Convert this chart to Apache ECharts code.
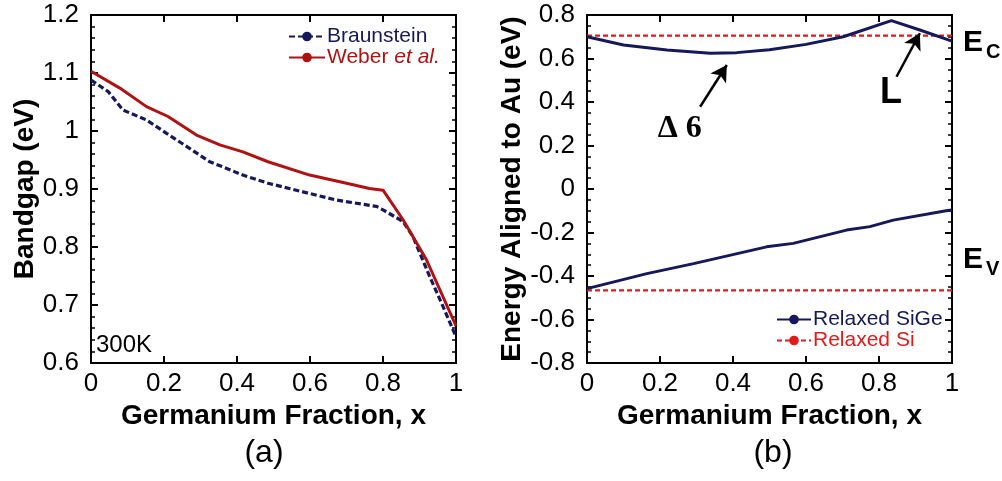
<!DOCTYPE html>
<html>
<head>
<meta charset="utf-8">
<script src="https://cdn.jsdelivr.net/npm/echarts@6/dist/echarts.min.js"></script>
<style>
  html, body { margin: 0; padding: 0; background: #fff; }
  #chart { width: 1002px; height: 481px; }
</style>
</head>
<body>
<div id="chart"></div>
<script>
// (a) Bandgap of SiGe versus germanium fraction at 300K
const weberX = [0, 0.079, 0.152, 0.211, 0.289, 0.353, 0.416, 0.485, 0.599, 0.7, 0.763, 0.8, 0.855, 0.919, 1.0];
const weberGap = [1.103, 1.074, 1.042, 1.025, 0.993, 0.976, 0.964, 0.947, 0.924, 0.910, 0.901, 0.898, 0.847, 0.778, 0.664];
const braunX = [0, 0.047, 0.088, 0.152, 0.207, 0.27, 0.325, 0.362, 0.416, 0.485, 0.581, 0.672, 0.782, 0.8, 0.855, 0.882, 0.928, 0.964, 1.0];
const braunGap = [1.088, 1.068, 1.036, 1.019, 0.996, 0.970, 0.947, 0.938, 0.924, 0.910, 0.895, 0.881, 0.870, 0.864, 0.844, 0.818, 0.749, 0.698, 0.645];

// (b) Band edges aligned to Au
const ecX = [0, 0.1, 0.219, 0.338, 0.41, 0.5, 0.6, 0.702, 0.834, 0.912, 1.0];
const ecSiGe = [0.700, 0.662, 0.639, 0.624, 0.627, 0.640, 0.665, 0.700, 0.774, 0.731, 0.680];
const evX = [0, 0.164, 0.292, 0.492, 0.565, 0.711, 0.775, 0.839, 0.984, 1.0];
const evSiGe = [-0.458, -0.389, -0.343, -0.266, -0.250, -0.189, -0.173, -0.143, -0.100, -0.097];
const siX = [0, 1];
const ecSi = [0.705, 0.705];
const evSi = [-0.466, -0.466];

// Annotation arrows (tail, head) in data units of panel (b)
const deltaArrow = [[0.31, 0.378], [0.383, 0.57]];
const lArrow = [[0.848, 0.516], [0.912, 0.716]];
const deltaLabelAt = [0.254, 0.278];
const lLabelAt = [0.833, 0.439];

const xTicks = { min: 0, max: 1, interval: 0.2 };
const gapTicks = { min: 0.6, max: 1.2, interval: 0.1 };
const energyTicks = { min: -0.8, max: 0.8, interval: 0.2 };

const FONT = 'Liberation Sans, Arial, Helvetica, sans-serif';
const NAVY = '#15185a';
const DARKRED = '#b01212';
const RED = '#e21a1a';

const pairs = (xs, ys) => xs.map((x, i) => [x, ys[i]]);

function xAxisFor(grid, top) {
  return Object.assign({
    type: 'value', gridIndex: grid, position: top ? 'top' : 'bottom',
    axisLine: { show: true, onZero: false, lineStyle: { color: '#000', width: 2 } },
    axisTick: { show: true, inside: true, length: 7, lineStyle: { color: '#000', width: 2 } },
    minorTick: { show: false },
    splitLine: { show: false },
    axisLabel: top ? { show: false } : {
      show: true, color: '#000', fontSize: 26, fontFamily: FONT, margin: 8,
      formatter: v => String(+v.toFixed(1))
    },
    name: top ? '' : 'Germanium Fraction, x',
    nameLocation: 'middle', nameGap: 36,
    nameTextStyle: { color: '#000', fontSize: 28, fontWeight: 'bold', fontFamily: FONT }
  }, xTicks);
}

function yAxisFor(grid, right, ticks, minorSplit, name, gap) {
  return Object.assign({
    type: 'value', gridIndex: grid, position: right ? 'right' : 'left',
    axisLine: { show: true, onZero: false, lineStyle: { color: '#000', width: 2 } },
    axisTick: { show: true, inside: true, length: 7, lineStyle: { color: '#000', width: 2 } },
    minorTick: { show: true, splitNumber: minorSplit, length: 4, lineStyle: { color: '#000', width: 1.5 } },
    splitLine: { show: false },
    axisLabel: right ? { show: false } : {
      show: true, color: '#000', fontSize: 26, fontFamily: FONT, margin: 12,
      formatter: v => String(+v.toFixed(1))
    },
    name: right ? '' : name,
    nameLocation: 'middle', nameGap: gap, nameRotate: 90,
    nameTextStyle: { color: '#000', fontSize: 28, fontWeight: 'bold', fontFamily: FONT }
  }, ticks);
}

const chart = echarts.init(document.getElementById('chart'), null, { renderer: 'canvas' });

const option = {
  backgroundColor: '#fff',
  animation: false,
  grid: [
    { left: 91, right: 546, top: 15, bottom: 118, show: false },
    { left: 587, right: 50, top: 15, bottom: 118, show: false }
  ],
  xAxis: [xAxisFor(0, false), xAxisFor(0, true), xAxisFor(1, false), xAxisFor(1, true)],
  yAxis: [
    yAxisFor(0, false, gapTicks, 5, 'Bandgap (eV)', 52),
    yAxisFor(0, true, gapTicks, 5, '', 0),
    yAxisFor(1, false, energyTicks, 4, 'Energy Aligned to Au (eV)', 48),
    yAxisFor(1, true, energyTicks, 4, '', 0)
  ],
  legend: [
    {
      orient: 'vertical', left: 288, top: 26, itemWidth: 36, itemHeight: 12, itemGap: 0, padding: 0,
      textStyle: { fontSize: 21, fontFamily: FONT, padding: [0, 0, 0, -3],
        rich: { i: { fontStyle: 'italic', fontSize: 21, fontFamily: FONT, color: DARKRED } } },
      formatter: n => n === 'Weber et al.' ? 'Weber {i|et al.}' : n,
      data: [
        { name: 'Braunstein', textStyle: { color: NAVY } },
        { name: 'Weber et al.', textStyle: { color: DARKRED } }
      ]
    },
    {
      orient: 'vertical', left: 776, top: 309, itemWidth: 34, itemHeight: 12, itemGap: 0, padding: 0,
      textStyle: { fontSize: 21, fontFamily: FONT, padding: [0, 0, 0, -3] },
      data: [
        { name: 'Relaxed SiGe', textStyle: { color: NAVY } },
        { name: 'Relaxed Si', textStyle: { color: RED } }
      ]
    }
  ],
  series: [
    {
      name: 'Braunstein', type: 'line', xAxisIndex: 0, yAxisIndex: 0,
      data: pairs(braunX, braunGap), showSymbol: false, symbol: 'none', smooth: false,
      lineStyle: { color: NAVY, width: 3.2, type: [6, 3] }, itemStyle: { color: NAVY }, z: 3
    },
    {
      name: 'Weber et al.', type: 'line', xAxisIndex: 0, yAxisIndex: 0,
      data: pairs(weberX, weberGap), showSymbol: false, symbol: 'none',
      lineStyle: { color: DARKRED, width: 3 }, itemStyle: { color: DARKRED }, z: 4
    },
    {
      name: 'Relaxed Si', type: 'line', xAxisIndex: 2, yAxisIndex: 2,
      data: pairs(siX, ecSi), showSymbol: false, symbol: 'none',
      lineStyle: { color: RED, width: 2.2, type: [5, 3] }, itemStyle: { color: RED }, z: 2
    },
    {
      name: 'Relaxed Si', type: 'line', xAxisIndex: 2, yAxisIndex: 2,
      data: pairs(siX, evSi), showSymbol: false, symbol: 'none',
      lineStyle: { color: RED, width: 2.2, type: [5, 3] }, itemStyle: { color: RED }, z: 2
    },
    {
      name: 'Relaxed SiGe', type: 'line', xAxisIndex: 2, yAxisIndex: 2,
      data: pairs(ecX, ecSiGe), showSymbol: false, symbol: 'none',
      lineStyle: { color: NAVY, width: 3 }, itemStyle: { color: NAVY }, z: 3,
      markLine: {
        silent: true, symbol: ['none', 'arrow'], symbolSize: [14, 16], animation: false,
        label: { show: false },
        lineStyle: { color: '#000', width: 2.5, type: 'solid' },
        data: [
          [{ coord: deltaArrow[0] }, { coord: deltaArrow[1] }],
          [{ coord: lArrow[0] }, { coord: lArrow[1] }]
        ]
      }
    },
    {
      name: 'Relaxed SiGe', type: 'line', xAxisIndex: 2, yAxisIndex: 2,
      data: pairs(evX, evSiGe), showSymbol: false, symbol: 'none',
      lineStyle: { color: NAVY, width: 3 }, itemStyle: { color: NAVY }, z: 3
    }
  ]
};

chart.setOption(option);

// Text annotations placed through the panel (b) scales
const dPos = chart.convertToPixel({ xAxisIndex: 2, yAxisIndex: 2 }, deltaLabelAt);
const lPos = chart.convertToPixel({ xAxisIndex: 2, yAxisIndex: 2 }, lLabelAt);

function txt(x, y, text, size, weight, family, align, extra) {
  return Object.assign({
    type: 'text', x: x, y: y, z: 10,
    style: {
      text: text, fontSize: size, fontWeight: weight || 'normal', fontFamily: family || FONT,
      fill: '#000', align: align || 'center', textAlign: align || 'center',
      verticalAlign: 'middle', textVerticalAlign: 'middle'
    }
  }, extra || {});
}

chart.setOption({
  graphic: [
    txt(96, 345, '300K', 24, 'normal', FONT, 'left'),
    txt(dPos[0], dPos[1], '\u0394 6', 32, 'bold', 'Liberation Serif, Times New Roman, serif'),
    txt(lPos[0], lPos[1], 'L', 36, 'bold'),
    txt(963, 43, 'E', 30, 'bold', FONT, 'left'),
    txt(986, 52, 'C', 20, 'bold', FONT, 'left'),
    txt(963, 260, 'E', 30, 'bold', FONT, 'left'),
    txt(986, 269, 'V', 20, 'bold', FONT, 'left'),
    txt(264, 453, '(a)', 32, 'normal'),
    txt(773, 453, '(b)', 32, 'normal')
  ]
});
</script>
</body>
</html>
